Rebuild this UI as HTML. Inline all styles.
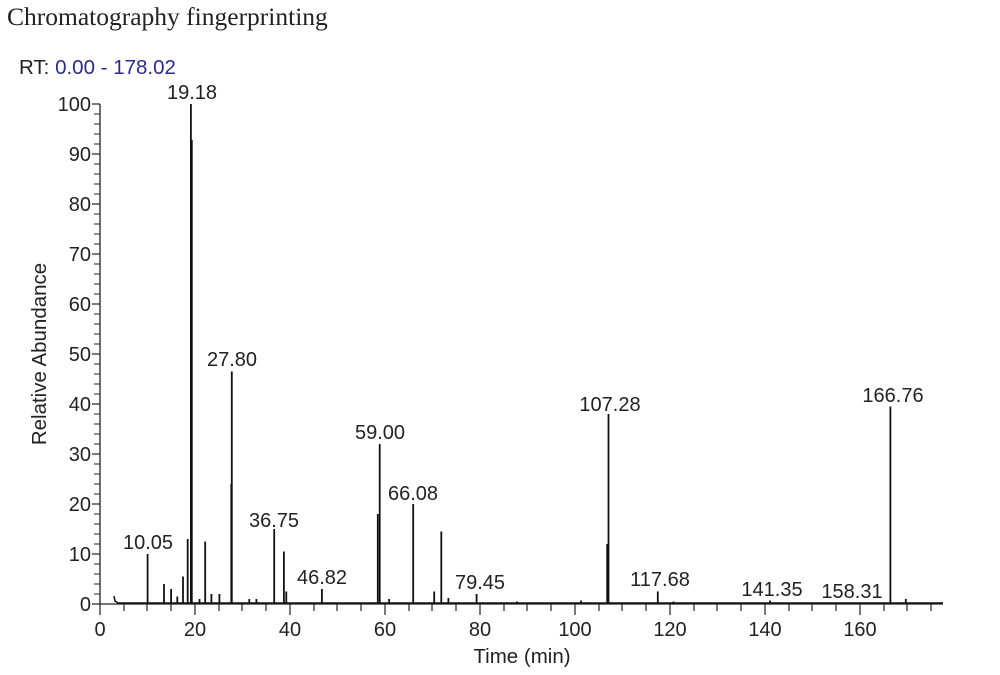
<!DOCTYPE html>
<html><head><meta charset="utf-8"><style>
html,body{margin:0;padding:0;background:#fff;}
svg{display:block;}
text{font-family:"Liberation Sans",Arial,sans-serif;fill:#222;}
</style></head><body>
<svg width="1000" height="675" viewBox="0 0 1000 675" xmlns="http://www.w3.org/2000/svg">
<text x="7" y="25" style="font-family:'Liberation Serif',serif;font-size:25.5px" fill="#000">Chromatography fingerprinting</text>
<text x="19" y="74" style="font-size:20.5px">RT: <tspan fill="#2a2a90">0.00 - 178.02</tspan></text>
<g stroke="#222" stroke-width="1.3" fill="none">
<line x1="100" y1="104" x2="100" y2="604"/>
<line x1="100" y1="604" x2="943" y2="604"/>
</g>
<g stroke="#222" stroke-width="1.2">
<line x1="92" y1="104" x2="100" y2="104"/><line x1="92" y1="154" x2="100" y2="154"/><line x1="92" y1="204" x2="100" y2="204"/><line x1="92" y1="254" x2="100" y2="254"/><line x1="92" y1="304" x2="100" y2="304"/><line x1="92" y1="354" x2="100" y2="354"/><line x1="92" y1="404" x2="100" y2="404"/><line x1="92" y1="454" x2="100" y2="454"/><line x1="92" y1="504" x2="100" y2="504"/><line x1="92" y1="554" x2="100" y2="554"/><line x1="92" y1="604" x2="100" y2="604"/>
</g>
<g stroke="#222" stroke-width="1">
<line x1="94" y1="114" x2="100" y2="114"/><line x1="94" y1="124" x2="100" y2="124"/><line x1="94" y1="134" x2="100" y2="134"/><line x1="94" y1="144" x2="100" y2="144"/>
<line x1="94" y1="164" x2="100" y2="164"/><line x1="94" y1="174" x2="100" y2="174"/><line x1="94" y1="184" x2="100" y2="184"/><line x1="94" y1="194" x2="100" y2="194"/>
<line x1="94" y1="214" x2="100" y2="214"/><line x1="94" y1="224" x2="100" y2="224"/><line x1="94" y1="234" x2="100" y2="234"/><line x1="94" y1="244" x2="100" y2="244"/>
<line x1="94" y1="264" x2="100" y2="264"/><line x1="94" y1="274" x2="100" y2="274"/><line x1="94" y1="284" x2="100" y2="284"/><line x1="94" y1="294" x2="100" y2="294"/>
<line x1="94" y1="314" x2="100" y2="314"/><line x1="94" y1="324" x2="100" y2="324"/><line x1="94" y1="334" x2="100" y2="334"/><line x1="94" y1="344" x2="100" y2="344"/>
<line x1="94" y1="364" x2="100" y2="364"/><line x1="94" y1="374" x2="100" y2="374"/><line x1="94" y1="384" x2="100" y2="384"/><line x1="94" y1="394" x2="100" y2="394"/>
<line x1="94" y1="414" x2="100" y2="414"/><line x1="94" y1="424" x2="100" y2="424"/><line x1="94" y1="434" x2="100" y2="434"/><line x1="94" y1="444" x2="100" y2="444"/>
<line x1="94" y1="464" x2="100" y2="464"/><line x1="94" y1="474" x2="100" y2="474"/><line x1="94" y1="484" x2="100" y2="484"/><line x1="94" y1="494" x2="100" y2="494"/>
<line x1="94" y1="514" x2="100" y2="514"/><line x1="94" y1="524" x2="100" y2="524"/><line x1="94" y1="534" x2="100" y2="534"/><line x1="94" y1="544" x2="100" y2="544"/>
<line x1="94" y1="564" x2="100" y2="564"/><line x1="94" y1="574" x2="100" y2="574"/><line x1="94" y1="584" x2="100" y2="584"/><line x1="94" y1="594" x2="100" y2="594"/>
</g>
<g style="font-size:20px" text-anchor="end">
<text x="91" y="111">100</text><text x="91" y="161">90</text><text x="91" y="211">80</text><text x="91" y="261">70</text><text x="91" y="311">60</text><text x="91" y="361">50</text><text x="91" y="411">40</text><text x="91" y="461">30</text><text x="91" y="511">20</text><text x="91" y="561">10</text><text x="91" y="611">0</text>
</g>
<text transform="translate(46,354) rotate(-90)" text-anchor="middle" style="font-size:20.5px">Relative Abundance</text>
<g stroke="#222" stroke-width="1.2">
<line x1="100" y1="604" x2="100" y2="615"/><line x1="195" y1="604" x2="195" y2="615"/><line x1="290" y1="604" x2="290" y2="615"/><line x1="385" y1="604" x2="385" y2="615"/><line x1="480" y1="604" x2="480" y2="615"/><line x1="575" y1="604" x2="575" y2="615"/><line x1="670" y1="604" x2="670" y2="615"/><line x1="765" y1="604" x2="765" y2="615"/><line x1="860" y1="604" x2="860" y2="615"/>
<line x1="124" y1="604" x2="124" y2="611"/><line x1="147" y1="604" x2="147" y2="611"/><line x1="171" y1="604" x2="171" y2="611"/>
<line x1="219" y1="604" x2="219" y2="611"/><line x1="242" y1="604" x2="242" y2="611"/><line x1="266" y1="604" x2="266" y2="611"/>
<line x1="314" y1="604" x2="314" y2="611"/><line x1="337" y1="604" x2="337" y2="611"/><line x1="361" y1="604" x2="361" y2="611"/>
<line x1="409" y1="604" x2="409" y2="611"/><line x1="432" y1="604" x2="432" y2="611"/><line x1="456" y1="604" x2="456" y2="611"/>
<line x1="504" y1="604" x2="504" y2="611"/><line x1="527" y1="604" x2="527" y2="611"/><line x1="551" y1="604" x2="551" y2="611"/>
<line x1="599" y1="604" x2="599" y2="611"/><line x1="622" y1="604" x2="622" y2="611"/><line x1="646" y1="604" x2="646" y2="611"/>
<line x1="694" y1="604" x2="694" y2="611"/><line x1="717" y1="604" x2="717" y2="611"/><line x1="741" y1="604" x2="741" y2="611"/>
<line x1="789" y1="604" x2="789" y2="611"/><line x1="812" y1="604" x2="812" y2="611"/><line x1="836" y1="604" x2="836" y2="611"/>
<line x1="884" y1="604" x2="884" y2="611"/><line x1="907" y1="604" x2="907" y2="611"/><line x1="931" y1="604" x2="931" y2="611"/>
</g>
<g style="font-size:20px" text-anchor="middle">
<text x="100" y="636">0</text><text x="195" y="636">20</text><text x="290" y="636">40</text><text x="385" y="636">60</text><text x="480" y="636">80</text><text x="575" y="636">100</text><text x="670" y="636">120</text><text x="765" y="636">140</text><text x="860" y="636">160</text>
</g>
<text x="522" y="663" text-anchor="middle" style="font-size:20.5px">Time (min)</text>
<path d="M114,596 L115,601 L118,603 L943,603" stroke="#111" stroke-width="1.5" fill="none"/>
<g stroke="#111" stroke-width="1.8">
<line x1="147.6" y1="604" x2="147.6" y2="554"/>
<line x1="164" y1="604" x2="164" y2="584"/>
<line x1="171.1" y1="604" x2="171.1" y2="589"/>
<line x1="177.3" y1="604" x2="177.3" y2="596.5"/>
<line x1="183" y1="604" x2="183" y2="576.5"/>
<line x1="187.7" y1="604" x2="187.7" y2="539"/>
<line x1="190.9" y1="604" x2="190.9" y2="104"/>
<line x1="191.9" y1="604" x2="191.9" y2="140" stroke-width="1.6"/>
<line x1="199.5" y1="604" x2="199.5" y2="599"/>
<line x1="205.2" y1="604" x2="205.2" y2="541.5"/>
<line x1="211.4" y1="604" x2="211.4" y2="594"/>
<line x1="219.4" y1="604" x2="219.4" y2="594"/>
<line x1="231.3" y1="604" x2="231.3" y2="484"/>
<line x1="231.8" y1="604" x2="231.8" y2="371.5"/>
<line x1="249.3" y1="604" x2="249.3" y2="599"/>
<line x1="256.4" y1="604" x2="256.4" y2="599"/>
<line x1="274.2" y1="604" x2="274.2" y2="529"/>
<line x1="283.9" y1="604" x2="283.9" y2="551.5"/>
<line x1="286.3" y1="604" x2="286.3" y2="591.5"/>
<line x1="321.9" y1="604" x2="321.9" y2="589"/>
<line x1="377.8" y1="604" x2="377.8" y2="514"/>
<line x1="379.7" y1="604" x2="379.7" y2="444"/>
<line x1="389.1" y1="604" x2="389.1" y2="599"/>
<line x1="413.2" y1="604" x2="413.2" y2="504"/>
<line x1="434.2" y1="604" x2="434.2" y2="591.5"/>
<line x1="441.3" y1="604" x2="441.3" y2="531.5"/>
<line x1="448.4" y1="604" x2="448.4" y2="598"/>
<line x1="476.6" y1="604" x2="476.6" y2="594"/>
<line x1="517.1" y1="604" x2="517.1" y2="601.5"/>
<line x1="581.1" y1="604" x2="581.1" y2="600.5"/>
<line x1="607.2" y1="604" x2="607.2" y2="544"/>
<line x1="608.5" y1="604" x2="608.5" y2="414"/>
<line x1="657.8" y1="604" x2="657.8" y2="591.5"/>
<line x1="673.5" y1="604" x2="673.5" y2="601.5"/>
<line x1="770" y1="604" x2="770" y2="600.5"/>
<line x1="890.4" y1="604" x2="890.4" y2="406.5"/>
<line x1="905.8" y1="604" x2="905.8" y2="599"/>
</g>
<g style="font-size:20px" text-anchor="middle">
<text x="148" y="549">10.05</text>
<text x="192" y="99">19.18</text>
<text x="232" y="366">27.80</text>
<text x="274" y="527">36.75</text>
<text x="322" y="584">46.82</text>
<text x="380" y="439">59.00</text>
<text x="413" y="500">66.08</text>
<text x="480" y="589">79.45</text>
<text x="610" y="411">107.28</text>
<text x="660" y="586">117.68</text>
<text x="772" y="596">141.35</text>
<text x="852" y="598">158.31</text>
<text x="893" y="402">166.76</text>
</g>
</svg>
</body></html>
